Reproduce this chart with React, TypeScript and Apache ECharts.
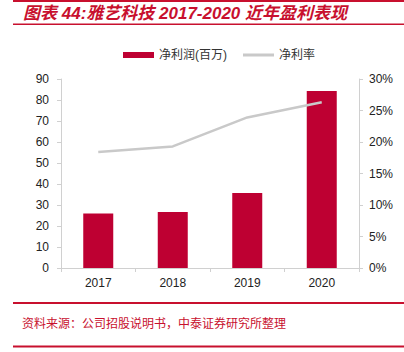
import React, { useEffect, useRef } from "react";
import * as echarts from "echarts";

const categories = ["2017", "2018", "2019", "2020"];
const netProfit = [26.0, 26.7, 35.7, 84.3];
const netMargin = [18.4, 19.3, 23.9, 26.3];
const leftTicks = [0, 90, 10];
const rightTicks = [0, 30, 5];

const TITLE = "图表 44:雅艺科技 2017-2020 近年盈利表现";
const SOURCE = "资料来源：公司招股说明书，中泰证券研究所整理";
const RED = "#c8102e";
const FONT = "'Liberation Sans', Arial, 'Noto Sans CJK SC', sans-serif";
const CJK = "'Liberation Sans', 'Noto Sans CJK SC', sans-serif";

export default function App() {
  const ref = useRef<HTMLDivElement>(null);
  useEffect(() => {
    if (!ref.current) return;
    const chart = echarts.init(ref.current, null, { renderer: "svg" });
    chart.setOption({
      animation: false,
      backgroundColor: "#ffffff",
      textStyle: { fontFamily: FONT },
      legend: {
        top: 44,
        left: 118,
        itemGap: 16,
        itemWidth: 31,
        itemHeight: 6,
        textStyle: { fontSize: 12, color: "#333", fontFamily: CJK },
        data: [
          { name: "净利润(百万)", icon: "rect" },
          { name: "净利率", icon: "path://M0,0H31V3H0Z", itemStyle: { color: "#c9c9c9" } },
        ],
      },
      grid: { left: 61, right: 45, top: 79, bottom: 84 },
      xAxis: {
        type: "category",
        data: categories,
        axisLine: { lineStyle: { color: "#d0d0d0", width: 1 } },
        axisTick: { show: true, length: 4, lineStyle: { color: "#d0d0d0" } },
        axisLabel: { color: "#222", fontSize: 12, margin: 9, fontFamily: FONT },
      },
      yAxis: [
        {
          type: "value",
          min: leftTicks[0],
          max: leftTicks[1],
          interval: leftTicks[2],
          axisLine: { show: true, lineStyle: { color: "#d0d0d0" } },
          axisTick: { show: true, length: 4, lineStyle: { color: "#d0d0d0" } },
          splitLine: { show: false },
          axisLabel: { color: "#222", fontSize: 12, margin: 12, fontFamily: FONT },
        },
        {
          type: "value",
          min: rightTicks[0],
          max: rightTicks[1],
          interval: rightTicks[2],
          position: "right",
          axisLine: { show: true, lineStyle: { color: "#d0d0d0" } },
          axisTick: { show: true, length: 4, lineStyle: { color: "#d0d0d0" } },
          splitLine: { show: false },
          axisLabel: { color: "#222", fontSize: 12, margin: 10, formatter: "{value}%", fontFamily: FONT },
        },
      ],
      series: [
        {
          name: "净利润(百万)",
          type: "bar",
          data: netProfit,
          barWidth: 30,
          itemStyle: { color: "#be0032" },
        },
        {
          name: "净利率",
          type: "line",
          yAxisIndex: 1,
          data: netMargin,
          symbol: "none",
          lineStyle: { color: "#c9c9c9", width: 2.5 },
          itemStyle: { color: "#c9c9c9" },
        },
      ],
      graphic: [
        { type: "rect", shape: { x: 13, y: 0, width: 391, height: 2 }, style: { fill: RED } },
        {
          type: "text",
          x: 23,
          y: 13,
          style: {
            text: TITLE,
            fill: RED,
            font: "italic bold 17px 'Liberation Sans', 'Noto Sans CJK SC', sans-serif",
            verticalAlign: "middle",
          },
        },
        { type: "rect", shape: { x: 13, y: 23.5, width: 391, height: 1.5 }, style: { fill: RED } },
        { type: "rect", shape: { x: 13, y: 302, width: 391, height: 2 }, style: { fill: RED } },
        {
          type: "text",
          x: 22,
          y: 322,
          style: {
            text: SOURCE,
            fill: RED,
            font: "12px 'Noto Sans CJK SC', sans-serif",
            verticalAlign: "middle",
          },
        },
        { type: "rect", shape: { x: 13, y: 345.5, width: 391, height: 2 }, style: { fill: RED } },
      ],
    });
    return () => chart.dispose();
  }, []);
  return (
    <div
      ref={ref}
      style={{ position: "fixed", left: 0, top: 0, width: 404, height: 352 }}
    />
  );
}
